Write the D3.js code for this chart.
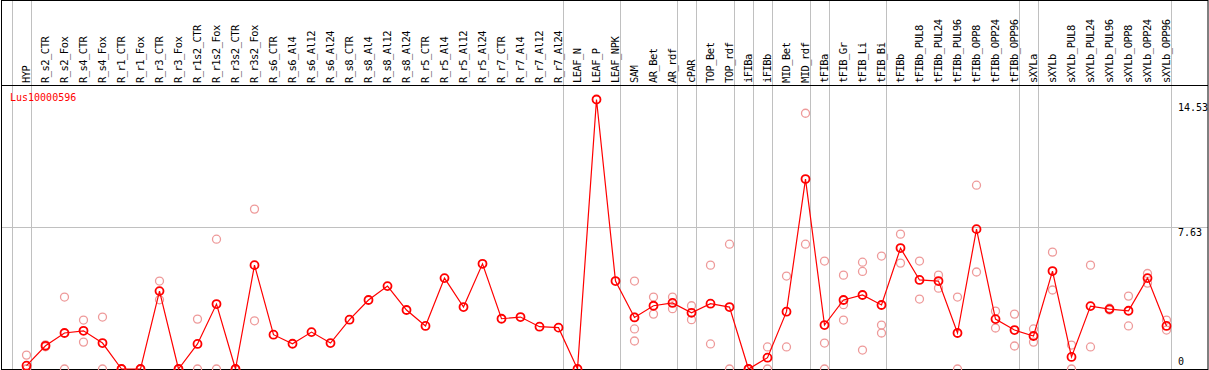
<!DOCTYPE html>
<meta charset="utf-8">
<style>
body { margin: 0; background: #fff; }
text { font-family: "DejaVu Sans Mono", monospace; }
</style>
<svg width="1209" height="370"></svg>
<script src="https://cdn.jsdelivr.net/npm/d3@7"></script>
<script>

// sample groups, separated by grey lines in the header
let groups = [
  ['HYP'],
  ['R_s2_CTR', 'R_s2_Fox', 'R_s4_CTR', 'R_s4_Fox', 'R_r1_CTR', 'R_r1_Fox', 'R_r3_CTR', 'R_r3_Fox',
   'R_r1s2_CTR', 'R_r1s2_Fox', 'R_r3s2_CTR', 'R_r3s2_Fox', 'R_s6_CTR', 'R_s6_Al4', 'R_s6_Al12', 'R_s6_Al24',
   'R_s8_CTR', 'R_s8_Al4', 'R_s8_Al12', 'R_s8_Al24', 'R_r5_CTR', 'R_r5_Al4', 'R_r5_Al12', 'R_r5_Al24',
   'R_r7_CTR', 'R_r7_Al4', 'R_r7_Al12', 'R_r7_Al24'],
  ['LEAF_N', 'LEAF_P', 'LEAF_NPK'],
  ['SAM', 'AR_Bet', 'AR_rdf'],
  ['cPAR'],
  ['TOP_Bet', 'TOP_rdf'],
  ['iFIBa'],
  ['iFIBb'],
  ['MID_Bet', 'MID_rdf'],
  ['tFIBa'],
  ['tFIB_Gr', 'tFIB_Li', 'tFIB_Bi'],
  ['tFIBb', 'tFIBb_PUL8', 'tFIBb_PUL24', 'tFIBb_PUL96', 'tFIBb_OPP8', 'tFIBb_OPP24', 'tFIBb_OPP96'],
  ['sXYLa'],
  ['sXYLb', 'sXYLb_PUL8', 'sXYLb_PUL24', 'sXYLb_PUL96', 'sXYLb_OPP8', 'sXYLb_OPP24', 'sXYLb_OPP96']
];
let categories = groups.flat();

let geneName = 'Lus10000596';

// mean expression per sample
let means = [
  0.18,
  1.25, 1.94, 2.06, 1.40, 0, 0, 4.20, 0,
  1.35, 3.50, 0, 5.60, 1.85, 1.36, 1.99, 1.40,
  2.66, 3.72, 4.47, 3.18, 2.32, 4.90, 3.34, 5.67,
  2.71, 2.80, 2.28, 2.23,
  0, 14.53, 4.74,
  2.78, 3.41, 3.56,
  3.03,
  3.52, 3.34,
  0,
  0.61,
  3.09, 10.24,
  2.37,
  3.72, 3.99, 3.45,
  6.52, 4.80, 4.74, 1.94, 7.54, 2.69, 2.10,
  1.78,
  5.28, 0.65, 3.39, 3.23, 3.14, 4.90, 2.32
];

// individual replicates per sample
let replicates = [
  [0.75, 0, 0],
  [1.2, 1.3], [3.88, 0], [2.64, 1.45], [2.80, 0], [0, 0], [0, 0], [4.74, 3.73], [0, 0],
  [2.69, 0], [7.00, 0], [0, 0], [8.62, 2.60], [], [], [], [],
  [], [], [], [], [], [], [], [],
  [], [], [], [],
  [], [], [],
  [4.74, 2.80, 2.16, 1.51], [3.88, 2.96], [3.88, 3.25],
  [3.41, 2.66],
  [5.60, 1.35], [6.73, 0],
  [0, 0],
  [1.19, 0],
  [5.01, 1.19], [13.79, 6.73],
  [5.82, 1.40, 0],
  [5.06, 3.47, 2.64], [5.76, 5.26, 1.02], [6.09, 2.37, 1.94],
  [7.27, 5.71], [5.82, 3.77], [5.06, 4.36], [3.88, 0], [9.91, 5.23], [3.12, 2.21], [2.96, 1.24],
  [2.16, 1.45],
  [6.30, 4.26], [1.29, 0], [5.60, 1.19], [3.28, 3.18], [3.93, 2.32], [5.15, 4.63], [2.64, 2.10]
];

let yTicks = [0, 7.63, 14.53];

let svg = d3.select('svg');
let width = +svg.attr('width');
let height = +svg.attr('height');
let headerY = 85.5;

let x = d3.scaleBand().domain(categories).range([11.5, 11.5 + 19 * categories.length]);
let cx = d => x(d) + 15;
let y = d3.scaleLinear().domain([0, 14.53]).range([369, 99.5]);

// grey separators: left edge of the first sample, then after every group
let seps = [x(categories[0])].concat(groups.map(g => x(g[g.length - 1]) + x.bandwidth()));
svg.selectAll('.sep').data(seps).enter().append('line')
    .attr('x1', d => Math.round(d) + 0.5).attr('x2', d => Math.round(d) + 0.5)
    .attr('y1', 0).attr('y2', height)
    .attr('stroke', '#c0c0c0');

// horizontal grid at the middle tick
svg.append('line')
    .attr('x1', 1).attr('x2', width - 1)
    .attr('y1', Math.round(y(7.63)) + 0.5).attr('y2', Math.round(y(7.63)) + 0.5)
    .attr('stroke', '#c0c0c0');

// frame
svg.append('rect')
    .attr('x', 1.5).attr('y', 0.5)
    .attr('width', width - 2.5).attr('height', height - 1)
    .attr('fill', 'none').attr('stroke', '#000');
svg.append('line')
    .attr('x1', 1).attr('x2', width - 1)
    .attr('y1', headerY).attr('y2', headerY)
    .attr('stroke', '#000');

// sample labels
svg.selectAll('.lab').data(categories).enter().append('text')
    .attr('transform', d => 'translate(' + (cx(d) + 3.2) + ',83) rotate(-90)')
    .attr('font-size', '10.5px')
    .attr('letter-spacing', '-0.55px')
    .attr('fill', '#000')
    .text(d => d);

// y tick labels
svg.selectAll('.tick').data(yTicks).enter().append('text')
    .attr('x', 1178)
    .attr('y', d => d === 0 ? y(d) - 4 : Math.max(y(d) + 8.5, 111))
    .attr('font-size', '10px')
    .attr('fill', '#000')
    .text(d => d);

// gene name
svg.append('text')
    .attr('x', 10).attr('y', 101)
    .attr('font-size', '10px')
    .attr('fill', '#f00')
    .text(geneName);

// replicates
let reps = [];
categories.forEach((c, i) => replicates[i].forEach(v => reps.push({ c: c, v: v })));
svg.selectAll('.rep').data(reps).enter().append('circle')
    .attr('cx', d => cx(d.c)).attr('cy', d => y(d.v)).attr('r', 4)
    .attr('fill', 'none').attr('stroke', '#ee9a9a').attr('stroke-width', 1.3);

// mean line
let pts = categories.map((c, i) => ({ c: c, v: means[i] }));
svg.append('path')
    .datum(pts)
    .attr('d', d3.line().x(d => cx(d.c)).y(d => y(d.v)))
    .attr('fill', 'none').attr('stroke', '#f00').attr('stroke-width', 1.2);

svg.selectAll('.mean').data(pts).enter().append('circle')
    .attr('cx', d => cx(d.c)).attr('cy', d => y(d.v)).attr('r', 4)
    .attr('fill', 'none').attr('stroke', '#f00').attr('stroke-width', 1.8);

</script>
